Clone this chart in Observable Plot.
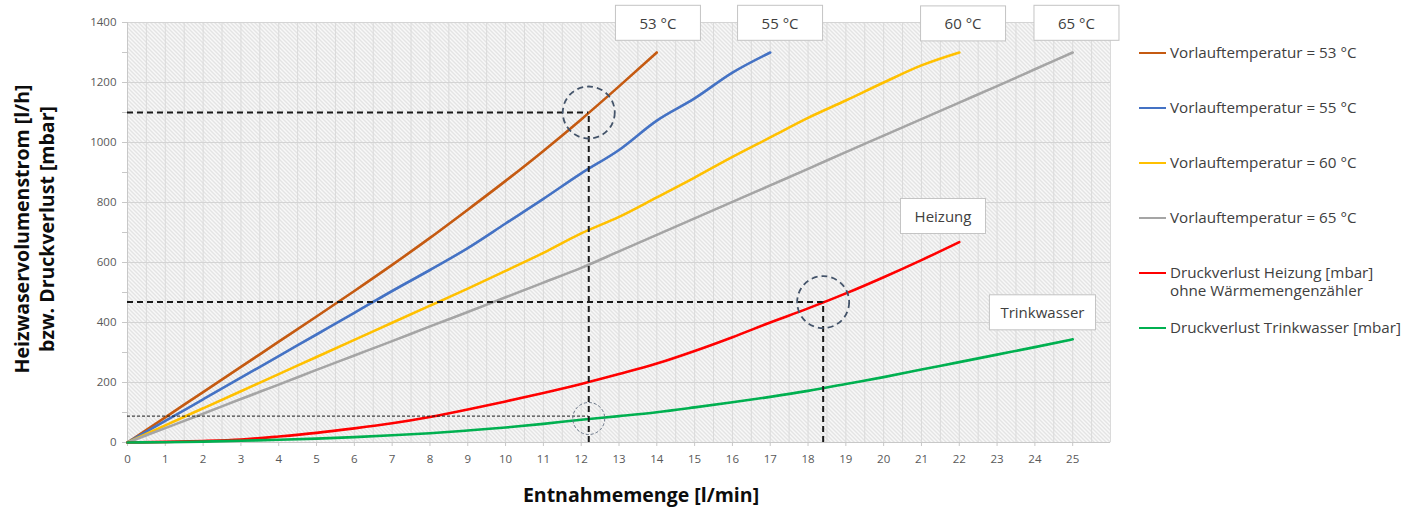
<!DOCTYPE html>
<html>
<head>
<meta charset="utf-8">
<script src="https://cdn.jsdelivr.net/npm/d3@7"></script>
<script src="https://cdn.jsdelivr.net/npm/@observablehq/plot@0.6"></script>
<style>
  body { margin: 0; background: #fff; font-family: "Open Sans", sans-serif; }
  #wrap { position: relative; width: 1417px; height: 508px; }
  #legend { position: absolute; left: 1139px; top: 44px; font-size: 15.2px; color: #404040; }
  .li { position: relative; height: 55px; padding-left: 31px; line-height: 17.5px; white-space: nowrap; }
  .li .sw { position: absolute; left: 0; top: 7.8px; width: 27px; height: 2.5px; }
</style>
</head>
<body>
<div id="wrap"><div id="legend"></div></div>
<script>
// ---- data ----
const flowLmin = d3.range(0, 26); // Entnahmemenge [l/min]
const vl53 = [0,84,168,252,336,420,505,592,682,776,872,972,1077,1187,1300];
const vl55 = [0,72,144,216,288,360,432,505,575,648,730,812,897,975,1073,1147,1233,1300];
const vl60 = [0,57,114,171,228,285,342,399,456,513,572,632,697,752,817,883,952,1017,1082,1140,1200,1257,1300];
const vl65 = [0,48,96,145,193,242,290,338,387,435,484,533,582,637,692,747,802,857,912,968,1023,1078,1133,1188,1244,1300];
const dpHeizung = [0,2,5,10,20,32,47,64,85,110,137,165,195,228,263,305,351,400,447,497,551,608,668];
const dpTrinkwasser = [0,1,3,6,9,13,18,24,31,40,50,62,76,88,101,117,134,152,172,195,218,243,268,293,318,344];

const seriesNames = [
  "Vorlauftemperatur = 53 °C",
  "Vorlauftemperatur = 55 °C",
  "Vorlauftemperatur = 60 °C",
  "Vorlauftemperatur = 65 °C",
  "Druckverlust Heizung [mbar]\nohne Wärmemengenzähler",
  "Druckverlust Trinkwasser [mbar]"
];
const seriesColors = ["#C55A11", "#4472C4", "#FFC000", "#A5A5A5", "#FF0000", "#00B050"];
const seriesValues = [vl53, vl55, vl60, vl65, dpHeizung, dpTrinkwasser];

const xTicks = d3.range(0, 26);
const yTicksMajor = d3.range(0, 1401, 200);
const yTicksMinor = d3.range(0, 1401, 100);

// reading examples (dashed guides)
const guideX = [12.2, 18.4];
const guideY = [1100, 468];
const thinGuideX = [12.2];
const thinGuideY = [88];
const smallCircleY = [80];

// annotation boxes
const tagText = ["53 °C", "55 °C", "60 °C", "65 °C", "Heizung", "Trinkwasser"];
const tagX = [14.03, 17.26, 22.1, 25.1, 21.57, 24.2];
const tagY = [1395, 1395, 1393, 1395, 751, 430];

// ---- build tables ----
const lineData = seriesNames.flatMap((s, i) =>
  seriesValues[i].map((v, j) => ({ series: s, x: flowLmin[j], y: v })));
const guides = guideX.map((x, i) => ({ x, y: guideY[i] }));
const thinGuides = thinGuideX.map((x, i) => ({ x, y: thinGuideY[i], cy: smallCircleY[i] }));
const tags = tagText.map((t, i) => ({ text: t, x: tagX[i], y: tagY[i] }));

const chart = Plot.plot({
  width: 1417,
  height: 508,
  marginLeft: 127,
  marginRight: 307,
  marginTop: 22,
  marginBottom: 66,
  style: { fontFamily: "'Open Sans', sans-serif", background: "transparent" },
  x: { domain: [0, 26], label: null },
  y: { domain: [0, 1400], label: null },
  color: { domain: seriesNames, range: seriesColors },
  marks: [
    Plot.frame({ fill: "url(#hatch)", stroke: "none" }),
    Plot.gridX(d3.range(0, 26.01, 0.5), { stroke: "#dadada", strokeOpacity: 1, strokeWidth: 1 }),
    Plot.gridY(yTicksMajor, { stroke: "#d4d4d4", strokeOpacity: 1, strokeWidth: 1 }),
    Plot.ruleY([0], { stroke: "#c8c8c8", strokeWidth: 1 }),
    Plot.ruleX([0], { stroke: "#c8c8c8", strokeWidth: 1 }),
    Plot.axisX(xTicks, { tickSize: 4, tickPadding: 8, fontSize: 11.5, stroke: "#c8c8c8", fill: "#595959", label: null }),
    Plot.axisY(yTicksMinor, { tickSize: 5, tickFormat: () => "", stroke: "#c8c8c8", label: null }),
    Plot.axisY(yTicksMajor, { tickSize: 5, tickPadding: 6, fontSize: 11.5, tickFormat: d => String(d), stroke: "#c8c8c8", fill: "#595959", label: null }),
    Plot.line(lineData, { x: "x", y: "y", z: "series", stroke: "series", strokeWidth: 2.6, curve: "monotone-x" }),
    // dashed reading guides
    Plot.ruleY(guides, { y: "y", x1: 0, x2: "x", stroke: "#1a1a1a", strokeWidth: 2, strokeDasharray: "6,4" }),
    Plot.ruleX(guides, { x: "x", y1: 0, y2: "y", stroke: "#1a1a1a", strokeWidth: 2, strokeDasharray: "6,4" }),
    Plot.ruleY(thinGuides, { y: "y", x1: 0, x2: "x", stroke: "#1a1a1a", strokeWidth: 1, strokeDasharray: "3,2" }),
    Plot.dot(guides, { x: "x", y: "y", r: 26, stroke: "#44546A", strokeWidth: 1.8, strokeDasharray: "6,4", fill: "none" }),
    Plot.dot(thinGuides, { x: "x", y: "cy", r: 16, stroke: "#6b7788", strokeWidth: 1, strokeDasharray: "3,2", fill: "none" }),
    Plot.text(tags, { x: "x", y: "y", text: "text", fontSize: 15, fill: "#404040", className: "tag" })
  ]
});

const wrap = document.getElementById("wrap");
wrap.insertBefore(chart, wrap.firstChild);
const svg = d3.select(chart);

// hatch pattern for plot area
const defs = svg.insert("defs", ":first-child");
const pat = defs.append("pattern").attr("id", "hatch").attr("patternUnits", "userSpaceOnUse")
  .attr("width", 4).attr("height", 4);
pat.append("rect").attr("width", 4).attr("height", 4).attr("fill", "#f8f8f8");
pat.append("path").attr("d", "M-1,-1 L5,5 M-1,3 L1,5 M3,-1 L5,1")
  .attr("stroke", "#cfcfcf").attr("stroke-width", 1);

// boxes behind annotation texts
svg.selectAll("g.tag text").each(function () {
  const b = this.getBBox();
  const w = Math.max(85, b.width + 22), h = 35;
  const cx = b.x + b.width / 2, cy = b.y + b.height / 2;
  const r = document.createElementNS("http://www.w3.org/2000/svg", "rect");
  r.setAttribute("x", cx - w / 2);
  r.setAttribute("y", cy - h / 2);
  r.setAttribute("width", w);
  r.setAttribute("height", h);
  r.setAttribute("fill", "#ffffff");
  r.setAttribute("stroke", "#c4c4c4");
  r.setAttribute("stroke-width", 1);
  const t = this.getAttribute("transform");
  if (t) r.setAttribute("transform", t);
  this.parentNode.insertBefore(r, this);
});

// axis titles
svg.append("text")
  .attr("x", 641).attr("y", 502)
  .attr("text-anchor", "middle")
  .attr("font-size", 19.5).attr("font-weight", "bold").attr("fill", "#0d0d0d")
  .text("Entnahmemenge [l/min]");
const yt = svg.append("text")
  .attr("transform", "translate(0,229) rotate(-90)")
  .attr("text-anchor", "middle")
  .attr("font-size", 19.5).attr("font-weight", "bold").attr("fill", "#0d0d0d");
yt.append("tspan").attr("x", 0).attr("y", 29).text("Heizwaservolumenstrom [l/h]");
yt.append("tspan").attr("x", 0).attr("y", 54).text("bzw. Druckverlust [mbar]");

// legend
const legend = d3.select("#legend");
seriesNames.forEach((s, i) => {
  const item = legend.append("div").attr("class", "li");
  item.append("div").attr("class", "sw").style("background", seriesColors[i]);
  s.split("\n").forEach(line => item.append("div").text(line));
});
</script>
</body>
</html>
